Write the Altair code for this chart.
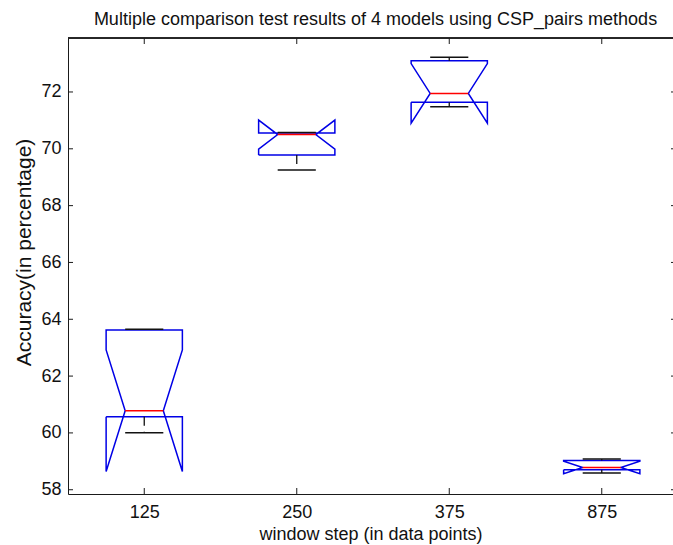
import altair as alt
import pandas as pd

# ---- data ----
categories = ["125", "250", "375", "875"]
positions = [1, 2, 3, 4]
q1 = [60.57, 69.78, 71.64, 58.70]
q3 = [63.62, 70.56, 73.10, 59.03]
median = [60.78, 70.50, 71.95, 58.78]
notch_lo = [58.64, 69.99, 70.90, 58.56]
notch_hi = [62.92, 71.01, 73.00, 59.00]
whisker_lo = [60.01, 69.25, 71.48, 58.59]
whisker_hi = [63.65, 70.57, 73.22, 59.08]
y_ticks = [58, 60, 62, 64, 66, 68, 70, 72]

HALF = 0.25          # box half width (x units)
W, H = 605, 456
FONT = "Liberation Sans"
X_DOM = [0.5, 0.5 + W / 152.5]
Y_DOM = [57.85, 73.9]

# ---- notched box outlines ----
rows = []
for i, p in enumerate(positions):
    pts = [
        (p - HALF, q1[i]), (p - HALF, notch_lo[i]), (p - HALF / 2, median[i]),
        (p - HALF, notch_hi[i]), (p - HALF, q3[i]), (p + HALF, q3[i]),
        (p + HALF, notch_hi[i]), (p + HALF / 2, median[i]), (p + HALF, notch_lo[i]),
        (p + HALF, q1[i]), (p - HALF, q1[i]),
    ]
    for k, (x, y) in enumerate(pts):
        rows.append({"box": categories[i], "order": k, "x": x, "y": y})
outline_df = pd.DataFrame(rows)

box_df = pd.DataFrame({
    "box": categories, "pos": positions,
    "xl": [p - HALF / 2 for p in positions], "xr": [p + HALF / 2 for p in positions],
    "q1": q1, "q3": q3, "median": median,
    "wlo": whisker_lo, "whi": whisker_hi,
})

xs = alt.Scale(domain=X_DOM, nice=False, zero=False)
ys = alt.Scale(domain=Y_DOM, nice=False, zero=False)

label_expr = " : ".join(
    f"datum.value == {p} ? '{c}'" for p, c in zip(positions, categories)
) + " : ''"

x_axis = alt.Axis(values=positions, labelExpr=label_expr, ticks=False, grid=False,
                  title="window step (in data points)", labelPadding=9, titlePadding=4,
                  domainColor="#1a1a1a", labelColor="#111111", titleColor="#111111",
                  labelFontSize=18, titleFontSize=18, labelFont=FONT, titleFont=FONT,
                  titleFontWeight="normal")
y_axis = alt.Axis(values=y_ticks, ticks=False, grid=False,
                  title="Accuracy(in percentage)", labelPadding=7, titlePadding=6,
                  titleY=214,
                  domainColor="#1a1a1a", labelColor="#111111", titleColor="#111111",
                  labelFontSize=18, titleFontSize=21, labelFont=FONT, titleFont=FONT,
                  titleFontWeight="normal")

base_x = alt.X("x:Q", scale=xs, axis=x_axis)
base_y = alt.Y("y:Q", scale=ys, axis=y_axis)

outline = alt.Chart(outline_df).mark_line(color="#0000e6", strokeWidth=1.5).encode(
    x=base_x, y=base_y, detail="box:N", order="order:Q")

med = alt.Chart(box_df).mark_rule(color="#ff0000", strokeWidth=1.5).encode(
    x=alt.X("xl:Q", scale=xs), x2="xr:Q", y=alt.Y("median:Q", scale=ys))

cap_lo = alt.Chart(box_df).mark_rule(color="#111111", strokeWidth=1.5).encode(
    x=alt.X("xl:Q", scale=xs), x2="xr:Q", y=alt.Y("wlo:Q", scale=ys))
cap_hi = alt.Chart(box_df).mark_rule(color="#111111", strokeWidth=1.5).encode(
    x=alt.X("xl:Q", scale=xs), x2="xr:Q", y=alt.Y("whi:Q", scale=ys))

wh_lo = alt.Chart(box_df).mark_rule(color="#111111", strokeWidth=1.3, strokeDash=[9, 6]).encode(
    x=alt.X("pos:Q", scale=xs), y=alt.Y("q1:Q", scale=ys), y2="wlo:Q")
wh_hi = alt.Chart(box_df).mark_rule(color="#111111", strokeWidth=1.3, strokeDash=[9, 6]).encode(
    x=alt.X("pos:Q", scale=xs), y=alt.Y("q3:Q", scale=ys), y2="whi:Q")

# inward ticks (box-style axes)
yt_df = pd.DataFrame({"v": y_ticks})
xt_df = pd.DataFrame({"v": positions})
tick_c = "#1a1a1a"
left_ticks = alt.Chart(yt_df).mark_rule(color=tick_c, strokeWidth=1).encode(
    y=alt.Y("v:Q", scale=ys), x=alt.value(0), x2=alt.value(5))
right_ticks = alt.Chart(yt_df).mark_rule(color=tick_c, strokeWidth=1).encode(
    y=alt.Y("v:Q", scale=ys), x=alt.value(W - 2), x2=alt.value(W))
bottom_ticks = alt.Chart(xt_df).mark_rule(color=tick_c, strokeWidth=1).encode(
    x=alt.X("v:Q", scale=xs), y=alt.value(H - 6), y2=alt.value(H))
top_ticks = alt.Chart(xt_df).mark_rule(color=tick_c, strokeWidth=1).encode(
    x=alt.X("v:Q", scale=xs), y=alt.value(0), y2=alt.value(6))
top_line = alt.Chart(xt_df).mark_rule(color=tick_c, strokeWidth=1.2).encode(
    y=alt.value(0), x=alt.value(0), x2=alt.value(W))

chart = alt.layer(
    outline, wh_lo, wh_hi, cap_lo, cap_hi, med,
    left_ticks, right_ticks, bottom_ticks, top_ticks, top_line,
).properties(
    width=W, height=H,
    title=alt.TitleParams(
        "Multiple comparison test results of 4 models using CSP_pairs methods",
        font=FONT, fontSize=18, fontWeight="normal", color="#111111",
        anchor="middle", offset=8, dx=5),
    padding={"left": 68, "top": 38, "right": 0, "bottom": 51},
    autosize="none",
).configure_view(stroke=None).configure(background="white")

chart.save("out.html", embed_options={"renderer": "svg", "actions": False})
